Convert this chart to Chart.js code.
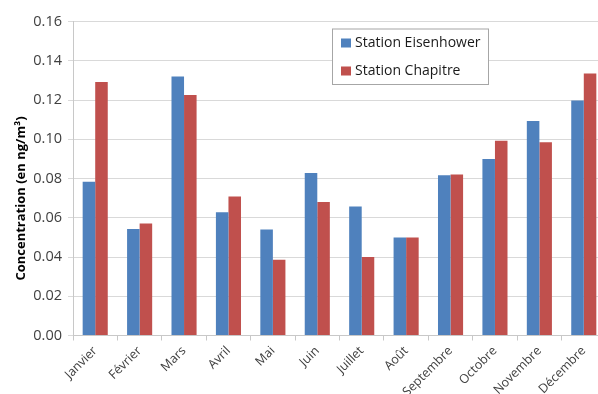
<!DOCTYPE html>
<html lang="fr">
<head>
<meta charset="utf-8">
<title>Concentration mensuelle</title>
<script src="https://cdn.jsdelivr.net/npm/chart.js@4/dist/chart.umd.min.js"></script>
<style>
  html, body { margin: 0; padding: 0; background: #fff; overflow: hidden; }
  #wrap { position: relative; width: 606px; height: 394px; }
</style>
</head>
<body>
<div id="wrap"><canvas id="chart"></canvas></div>
<script>
// Monthly concentrations (ng/m³) at the two stations
const months = ['Janvier', 'Février', 'Mars', 'Avril', 'Mai', 'Juin',
  'Juillet', 'Août', 'Septembre', 'Octobre', 'Novembre', 'Décembre'];
const eisenhower = [0.0783, 0.0543, 0.1320, 0.0628, 0.0540, 0.0828,
  0.0657, 0.0500, 0.0816, 0.0900, 0.1093, 0.1198];
const chapitre = [0.1292, 0.0571, 0.1225, 0.0708, 0.0386, 0.0680,
  0.0400, 0.0500, 0.0820, 0.0992, 0.0985, 0.1335];
const seriesNames = ['Station Eisenhower', 'Station Chapitre'];
const seriesColors = ['#4F81BD', '#C0504D'];
const yTicks = { min: 0, max: 0.16, step: 0.02 };
const yTitle = 'Concentration (en ng/m³)';

const FONT = '"Open Sans", "Noto Sans", sans-serif';

// Boxed legend sitting inside the plot area
const boxLegend = {
  id: 'boxLegend',
  afterDraw(chart) {
    const ctx = chart.ctx;
    const x = 332, y = 28.5, w = 157, h = 56.5;
    ctx.save();
    ctx.fillStyle = '#ffffff';
    ctx.fillRect(x, y, w, h);
    ctx.strokeStyle = '#a6a6a6';
    ctx.lineWidth = 1;
    ctx.strokeRect(x + 0.5, y + 0.5, w - 1, h - 1);
    ctx.font = '14px ' + FONT;
    ctx.textBaseline = 'middle';
    chart.data.datasets.forEach((ds, i) => {
      const cy = 43 + i * 28;
      ctx.fillStyle = ds.backgroundColor;
      ctx.fillRect(341, cy - 4.5, 10, 9);
      ctx.fillStyle = '#1a1a1a';
      ctx.fillText(ds.label, 355, cy);
    });
    ctx.restore();
  }
};

// Vertical axis title
const axisTitle = {
  id: 'axisTitle',
  afterDraw(chart) {
    const ctx = chart.ctx;
    const a = chart.chartArea;
    ctx.save();
    ctx.translate(21, (a.top + a.bottom) / 2 + 20);
    ctx.rotate(-Math.PI / 2);
    ctx.font = 'bold 13px ' + FONT;
    ctx.fillStyle = '#000000';
    ctx.textAlign = 'center';
    ctx.textBaseline = 'middle';
    ctx.fillText(yTitle, 0, 0);
    ctx.restore();
  }
};

new Chart(document.getElementById('chart'), {
  type: 'bar',
  data: {
    labels: months,
    datasets: [
      { label: seriesNames[0], data: eisenhower, backgroundColor: seriesColors[0] },
      { label: seriesNames[1], data: chapitre, backgroundColor: seriesColors[1] }
    ]
  },
  options: {
    responsive: true,
    maintainAspectRatio: false,
    animation: false,
    layout: { padding: { top: 21.5, left: 0, right: 0, bottom: 0 } },
    datasets: { bar: { categoryPercentage: 0.565, barPercentage: 1.0 } },
    plugins: { legend: { display: false }, tooltip: { enabled: false } },
    scales: {
      x: {
        grid: { offset: true, drawOnChartArea: false, drawTicks: true, tickLength: 5, color: '#c8c8c8' },
        border: { color: '#c8c8c8' },
        ticks: { minRotation: 45, maxRotation: 45, color: '#404040', font: { family: FONT, size: 12.5 }, padding: 3 },
        afterFit(scale) { scale.height = 58.5; }
      },
      y: {
        min: yTicks.min,
        max: yTicks.max,
        grid: { color: '#d9d9d9', tickLength: 5 },
        border: { color: '#c8c8c8' },
        ticks: {
          stepSize: yTicks.step,
          color: '#404040',
          font: { family: FONT, size: 14.5 },
          padding: 6,
          callback: (v) => v.toFixed(2)
        },
        afterFit(scale) { scale.width = 73; }
      }
    }
  },
  plugins: [boxLegend, axisTitle]
});
</script>
</body>
</html>
